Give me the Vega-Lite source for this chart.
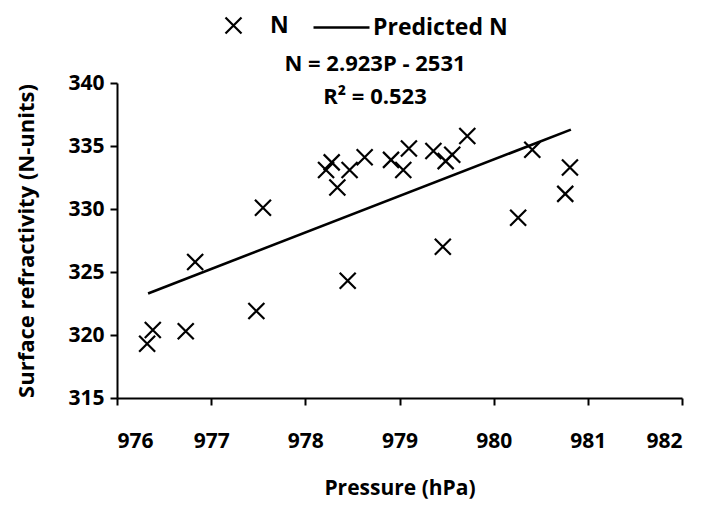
{
  "$schema": "https://vega.github.io/schema/vega-lite/v6.json",
  "width": 565,
  "height": 315,
  "autosize": {"type": "none"},
  "padding": {"left": 117, "top": 83, "right": 22, "bottom": 107},
  "background": "white",
  "config": {
    "view": {"stroke": null},
    "font": "Open Sans",
    "axis": {
      "domainColor": "black",
      "domainWidth": 2,
      "tickColor": "black",
      "tickWidth": 2,
      "tickSize": 7,
      "grid": false,
      "labelFont": "Open Sans",
      "labelFontSize": 21,
      "labelFontWeight": "bold",
      "labelColor": "black",
      "titleFont": "Open Sans",
      "titleFontSize": 22,
      "titleFontWeight": "bold",
      "titleColor": "black"
    },
    "legend": {
      "labelFont": "Open Sans",
      "labelFontSize": 23,
      "labelFontWeight": "bold",
      "labelColor": "black",
      "padding": 0
    }
  },
  "layer": [
    {
      "data": {
        "values": [
          {"P": 976.32, "N": 319.3},
          {"P": 976.38, "N": 320.4},
          {"P": 976.73, "N": 320.3},
          {"P": 976.83, "N": 325.8},
          {"P": 977.48, "N": 321.9},
          {"P": 977.55, "N": 330.1},
          {"P": 978.22, "N": 333.1},
          {"P": 978.28, "N": 333.7},
          {"P": 978.34, "N": 331.7},
          {"P": 978.47, "N": 333.1},
          {"P": 978.45, "N": 324.3},
          {"P": 978.63, "N": 334.1},
          {"P": 978.91, "N": 333.9},
          {"P": 979.04, "N": 333.1},
          {"P": 979.10, "N": 334.8},
          {"P": 979.36, "N": 334.6},
          {"P": 979.49, "N": 333.8},
          {"P": 979.56, "N": 334.3},
          {"P": 979.72, "N": 335.8},
          {"P": 979.46, "N": 327.0},
          {"P": 980.26, "N": 329.3},
          {"P": 980.41, "N": 334.7},
          {"P": 980.76, "N": 331.2},
          {"P": 980.81, "N": 333.3}
        ]
      },
      "mark": {"type": "point", "filled": false, "stroke": "black", "strokeWidth": 2.2, "size": 256, "opacity": 1},
      "encoding": {
        "x": {
          "field": "P", "type": "quantitative",
          "scale": {"domain": [976, 982], "nice": false, "zero": false},
          "axis": {"values": [976, 977, 978, 979, 980, 981, 982], "format": "d", "title": "Pressure (hPa)", "labelPadding": 25, "titlePadding": 26, "titleFontSize": 21}
        },
        "y": {
          "field": "N", "type": "quantitative",
          "scale": {"domain": [315, 340], "nice": false, "zero": false},
          "axis": {"values": [315, 320, 325, 330, 335, 340], "format": "d", "title": "Surface refractivity (N-units)", "labelPadding": 6, "titlePadding": 29}
        },
        "shape": {
          "datum": "N",
          "scale": {"domain": ["N"], "range": ["M-1,-1L1,1M-1,1L1,-1"]},
          "legend": {
            "orient": "none", "legendX": 105, "legendY": -69, "title": null,
            "symbolSize": 256, "symbolStrokeColor": "black", "symbolFillColor": "transparent",
            "symbolStrokeWidth": 2.2, "labelOffset": 25
          }
        }
      }
    },
    {
      "data": {
        "values": [
          {"P": 976.33, "N": 323.3},
          {"P": 980.82, "N": 336.3}
        ]
      },
      "mark": {"type": "line", "strokeWidth": 2.6},
      "encoding": {
        "x": {"field": "P", "type": "quantitative"},
        "y": {"field": "N", "type": "quantitative"},
        "color": {
          "datum": "Predicted N",
          "scale": {"domain": ["Predicted N"], "range": ["black"]},
          "legend": {
            "orient": "none", "legendX": 195, "legendY": -85, "title": null,
            "symbolType": "stroke", "symbolSize": 3136, "symbolStrokeWidth": 2.5,
            "labelOffset": 2
          }
        }
      }
    },
    {
      "data": {
        "values": [
          {"P": 978.74, "N": 341.5, "label": "N = 2.923P - 2531"},
          {"P": 978.74, "N": 338.9, "label": "R² = 0.523"}
        ]
      },
      "mark": {"type": "text", "font": "Open Sans", "fontSize": 22, "fontWeight": "bold", "color": "black", "baseline": "middle", "align": "center"},
      "encoding": {
        "x": {"field": "P", "type": "quantitative"},
        "y": {"field": "N", "type": "quantitative"},
        "text": {"field": "label"}
      }
    }
  ]
}
